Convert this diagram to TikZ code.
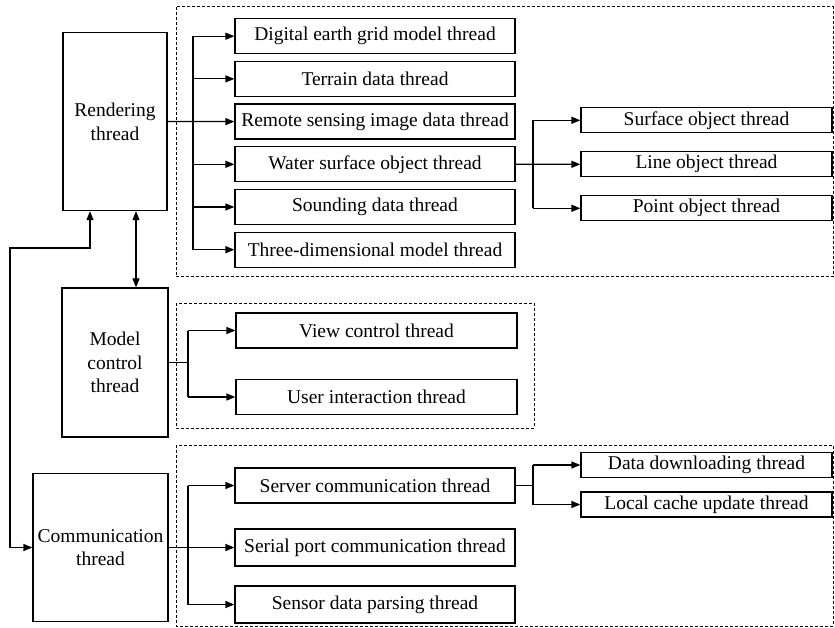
\documentclass[tikz,border=0pt]{standalone}
\usepackage{fontspec}
\setmainfont{Liberation Serif}
\usetikzlibrary{arrows.meta,positioning}
\tikzset{
  thr/.style={draw,line width=1.2pt,minimum width=280pt,minimum height=35pt,inner sep=1pt,font=\fontsize{19.5}{23}\selectfont},
  subthr/.style={thr,minimum width=251pt,minimum height=25pt},
  mainthr/.style={draw,line width=1.2pt,align=center,inner sep=1pt,font=\fontsize{19.5}{23.5}\selectfont},
  grp/.style={draw,dash pattern=on 3pt off 2pt,line width=1pt},
  ln/.style={line width=1.2pt},
  arr/.style={ln,-{Triangle[length=9pt,width=7pt]}},
  arrboth/.style={ln,{Triangle[length=9pt,width=7pt]}-{Triangle[length=9pt,width=7pt]}}
}
\begin{document}
\begin{tikzpicture}[x=1pt,y=-1pt]
\useasboundingbox (0,0) rectangle (835,628);

% groups
\draw[grp] (176,7) rectangle (833,277);
\draw[grp] (176,303) rectangle (534,428);
\draw[grp] (176,445) rectangle (833,626);

% main threads
\node[mainthr,minimum width=104pt,minimum height=178pt] (rend) at (115,121.6) {Rendering\\thread};
\node[mainthr,minimum width=106pt,minimum height=149pt] (model) at (115,362.5) {Model\\control\\thread};
\node[mainthr,minimum width=135pt,minimum height=148pt] (comm) at (100.5,547.5) {Communication\\thread};

% rendering children
\node[thr] (dig) at (375,36.2) {Digital earth grid model thread};
\node[thr,below=6.5pt of dig] (terr) {Terrain data thread};
\node[thr,below=6.5pt of terr] (remote) {Remote sensing image data thread};
\node[thr,below=6.5pt of remote] (water) {Water surface object thread};
\node[thr,below=6.5pt of water] (sound) {Sounding data thread};
\node[thr,below=6.5pt of sound] (three) {Three-dimensional model thread};

\node[subthr] (surf) at (706.5,120.3) {Surface object thread};
\node[subthr,below=17.8pt of surf] (line) {Line object thread};
\node[subthr,below=17.8pt of line] (point) {Point object thread};

% model control children
\node[thr,minimum width=281pt] (view) at (376.5,330.5) {View control thread};
\node[thr,minimum width=281pt] (user) at (376.5,397) {User interaction thread};

% communication children
\node[thr] (server) at (375,485.5) {Server communication thread};
\node[thr,minimum height=37pt] (serial) at (375,547.5) {Serial port communication thread};
\node[thr,minimum height=37pt] (sensor) at (375,604.5) {Sensor data parsing thread};

\node[subthr] (down) at (706.5,465) {Data downloading thread};
\node[subthr] (cache) at (706.5,504.5) {Local cache update thread};

% connectors
\coordinate (rbus) at (193,121.6);
\draw[ln] (rbus |- dig) -- (rbus |- three);
\draw[arr] (rend) -- (remote);
\foreach \n in {dig,terr,water,sound,three}
  \draw[arr] (rbus |- \n) -- (\n.west);

\coordinate (wbus) at (533,0);
\draw[ln] (wbus |- surf) -- (wbus |- point);
\draw[arr] (water) -- (line);
\foreach \n in {surf,point}
  \draw[arr] (wbus |- \n) -- (\n.west);

\coordinate (mbus) at (188,362.5);
\draw[ln] (model) -- (mbus);
\draw[ln] (mbus |- view) -- (mbus |- user);
\foreach \n in {view,user}
  \draw[arr] (mbus |- \n) -- (\n.west);

\coordinate (cbus) at (188,547.5);
\draw[ln] (cbus |- server) -- (cbus |- sensor);
\draw[arr] (comm) -- (serial);
\foreach \n in {server,sensor}
  \draw[arr] (cbus |- \n) -- (\n.west);

\coordinate (sbus) at (533,485.5);
\draw[ln] (server) -- (sbus);
\draw[ln] (sbus |- down) -- (sbus |- cache);
\foreach \n in {down,cache}
  \draw[arr] (sbus |- \n) -- (\n.west);

% feedback between main threads
\coordinate (loop) at (10,248);
\draw[arrboth] ([xshift=-25pt]rend.south) |- (loop) |- (comm.west);
\draw[arrboth] ([xshift=21pt]rend.south) -- ([xshift=21pt]model.north);
\end{tikzpicture}
\end{document}
